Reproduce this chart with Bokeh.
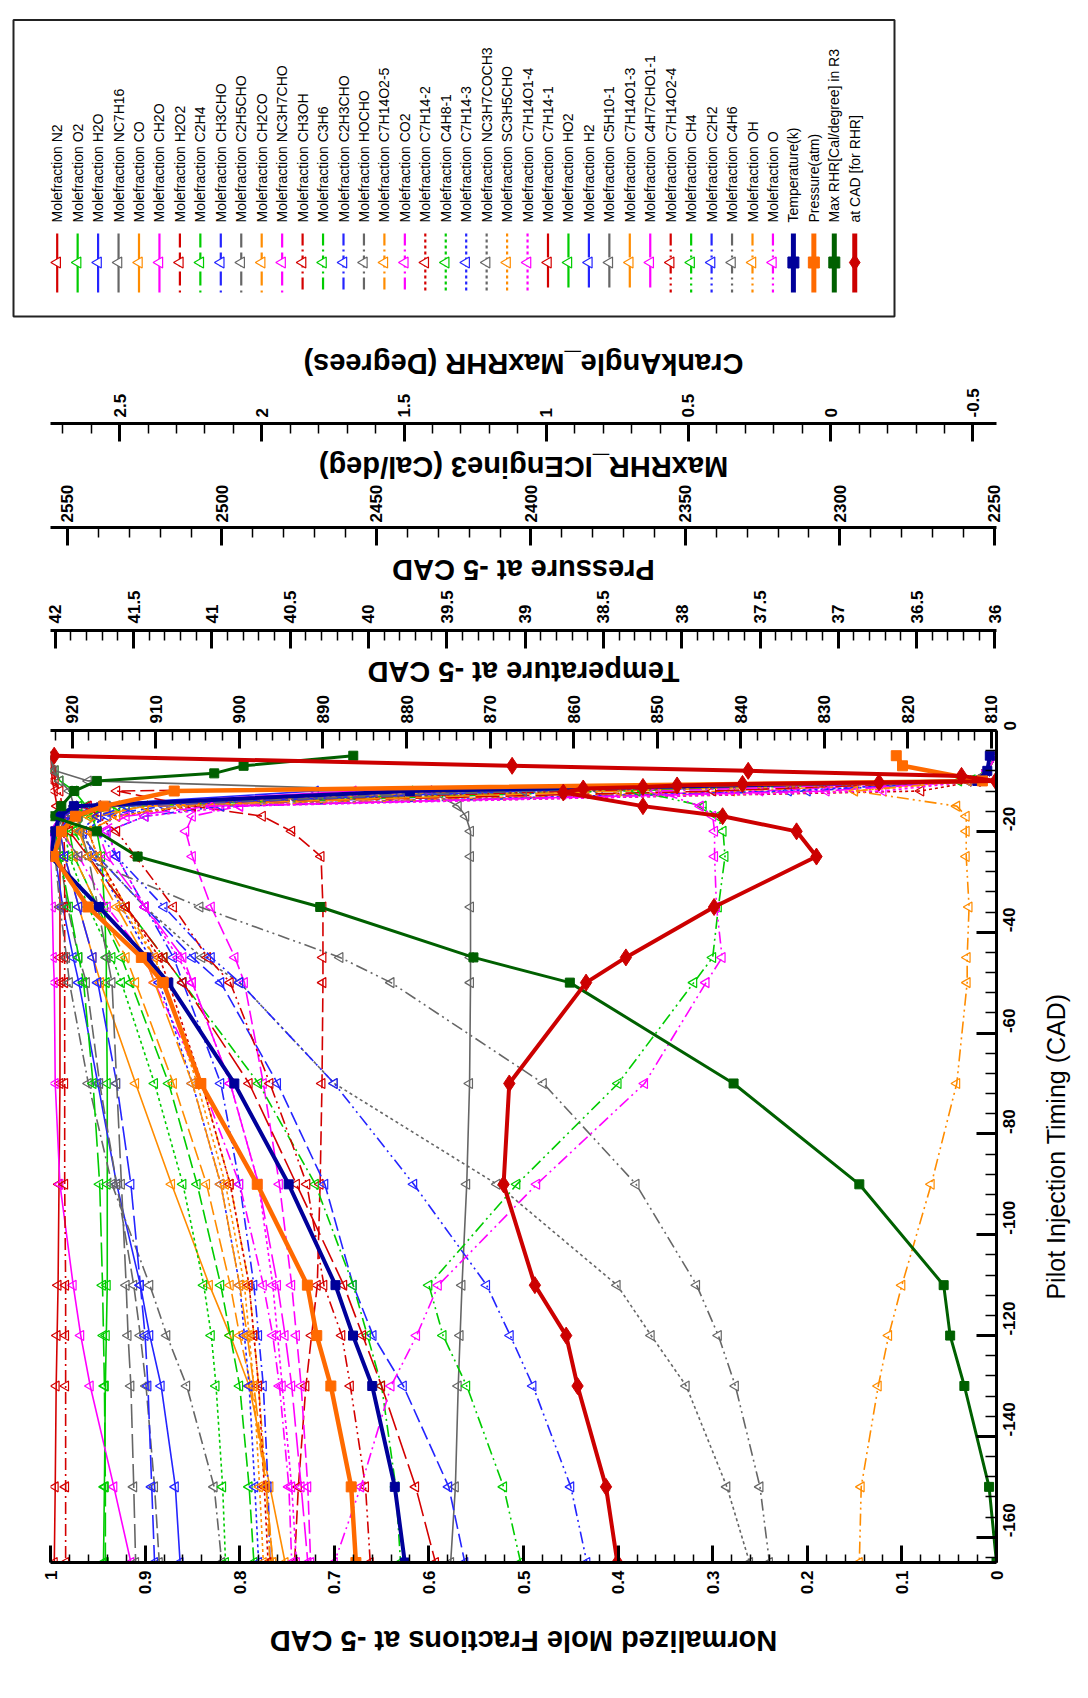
import math
from bokeh.plotting import figure
from bokeh.models import Range1d, LinearAxis, FixedTicker, CustomJSTickFormatter
from bokeh.layouts import column, row
from bokeh.embed import file_html
from bokeh.resources import INLINE
from bokeh.core.properties import value

# ---------------- data ----------------
T_SP = [-5, -8, -10, -12, -15, -17, -20, -25, -35, -45, -50, -70, -90, -110, -120, -130, -150, -165]

N2 = [1.0, 0.999, 0.998, 0.996, 0.993, 0.992, 0.991, 0.99, 0.99, 0.99, 0.99, 0.99, 0.991, 0.992, 0.993, 0.994, 0.995, 0.996]
O2 = [1.0, 0.995, 0.99, 0.975, 0.962, 0.956, 0.951, 0.946, 0.943, 0.941, 0.941, 0.94, 0.94, 0.94, 0.941, 0.942, 0.943, 0.944]
H2O = [0.0, 0.01, 0.03, 0.72, 0.975, 0.99, 1.0, 0.995, 0.987, 0.976, 0.97, 0.95, 0.93, 0.905, 0.895, 0.883, 0.868, 0.863]
NC7H16 = [1.0, 0.995, 0.96, 0.6, 0.569, 0.561, 0.556, 0.556, 0.556, 0.556, 0.556, 0.557, 0.56, 0.565, 0.567, 0.569, 0.572, 0.577]
CO = [0.0, 0.01, 0.02, 0.55, 0.93, 0.97, 0.99, 0.985, 0.97, 0.955, 0.947, 0.91, 0.872, 0.832, 0.81, 0.79, 0.768, 0.752]
CH2O = [0.0, 0.01, 0.03, 0.68, 0.96, 0.99, 1.0, 1.0, 0.998, 0.997, 0.996, 0.995, 0.99, 0.976, 0.968, 0.958, 0.933, 0.915]
H2O2 = [0.0, 0.01, 0.02, 0.93, 0.85, 0.776, 0.745, 0.714, 0.712, 0.712, 0.712, 0.713, 0.715, 0.718, 0.724, 0.73, 0.738, 0.742]
C2H4 = [0.0, 0.01, 0.02, 0.5, 0.9, 0.96, 0.98, 0.975, 0.95, 0.925, 0.915, 0.875, 0.845, 0.82, 0.81, 0.8, 0.79, 0.785]
CH3CHO = [0.0, 0.01, 0.02, 0.42, 0.88, 0.95, 0.97, 0.95, 0.9, 0.85, 0.82, 0.76, 0.71, 0.68, 0.659, 0.627, 0.579, 0.562]
C2H5CHO = [0.0, 0.01, 0.03, 0.6, 0.97, 0.985, 0.99, 0.99, 0.982, 0.97, 0.962, 0.948, 0.93, 0.912, 0.905, 0.899, 0.89, 0.885]
CH2CO = [0.0, 0.01, 0.02, 0.45, 0.9, 0.96, 0.985, 0.975, 0.95, 0.92, 0.91, 0.87, 0.835, 0.81, 0.8, 0.788, 0.772, 0.765]
NC3H7CHO = [0.0, 0.01, 0.02, 0.25, 0.8, 0.85, 0.857, 0.85, 0.83, 0.805, 0.795, 0.775, 0.758, 0.745, 0.74, 0.735, 0.728, 0.725]
CH3OH = [1.0, 0.998, 0.995, 0.99, 0.988, 0.987, 0.986, 0.985, 0.985, 0.985, 0.985, 0.985, 0.985, 0.984, 0.984, 0.984, 0.984, 0.984]
C3H6 = [0.0, 0.01, 0.02, 0.4, 0.93, 0.97, 0.975, 0.96, 0.92, 0.88, 0.86, 0.78, 0.72, 0.68, 0.665, 0.65, 0.635, 0.63]
C2H3CHO = [0.0, 0.01, 0.02, 0.2, 0.82, 0.9, 0.94, 0.93, 0.9, 0.87, 0.86, 0.82, 0.8, 0.785, 0.78, 0.775, 0.77, 0.768]
HOCHO = [0.0, 0.01, 0.03, 0.55, 0.95, 0.985, 0.995, 0.995, 0.99, 0.983, 0.98, 0.96, 0.935, 0.895, 0.877, 0.856, 0.827, 0.819]
C7H14O2_5 = [0.0, 0.01, 0.02, 0.28, 0.86, 0.93, 0.96, 0.95, 0.92, 0.89, 0.88, 0.84, 0.81, 0.79, 0.785, 0.78, 0.772, 0.768]
CO2 = [0.0, 0.01, 0.02, 0.6, 0.95, 0.98, 0.99, 0.97, 0.94, 0.9, 0.89, 0.84, 0.8, 0.775, 0.765, 0.758, 0.748, 0.745]
C7H14_2 = [0.0, 0.01, 0.02, 0.08, 0.85, 0.93, 0.96, 0.95, 0.92, 0.885, 0.875, 0.84, 0.81, 0.79, 0.785, 0.78, 0.774, 0.77]
C4H8_1 = [0.0, 0.01, 0.02, 0.45, 0.92, 0.97, 0.985, 0.98, 0.96, 0.935, 0.925, 0.89, 0.86, 0.838, 0.83, 0.825, 0.818, 0.815]
C7H14_3 = [0.0, 0.01, 0.02, 0.22, 0.86, 0.94, 0.965, 0.955, 0.925, 0.895, 0.885, 0.85, 0.82, 0.8, 0.795, 0.79, 0.784, 0.78]
NC3H7COCH3 = [0.0, 0.01, 0.02, 0.45, 0.94, 0.97, 0.97, 0.95, 0.9, 0.84, 0.8, 0.7, 0.528, 0.401, 0.365, 0.328, 0.285, 0.261]
SC3H5CHO = [0.0, 0.01, 0.02, 0.15, 0.86, 0.93, 0.96, 0.95, 0.925, 0.89, 0.88, 0.845, 0.815, 0.795, 0.79, 0.785, 0.779, 0.775]
C7H14O1_4 = [0.0, 0.01, 0.02, 0.12, 0.8, 0.9, 0.94, 0.93, 0.9, 0.865, 0.85, 0.81, 0.78, 0.765, 0.76, 0.755, 0.745, 0.74]
C7H14_1 = [0.0, 0.01, 0.02, 0.3, 0.95, 0.98, 0.98, 0.96, 0.92, 0.88, 0.86, 0.79, 0.74, 0.69, 0.67, 0.65, 0.614, 0.593]
HO2 = [0.0, 0.01, 0.04, 0.62, 0.97, 0.99, 0.995, 0.99, 0.98, 0.97, 0.965, 0.955, 0.948, 0.945, 0.944, 0.943, 0.942, 0.942]
H2 = [0.0, 0.01, 0.03, 0.5, 0.95, 0.98, 0.99, 0.985, 0.97, 0.955, 0.95, 0.93, 0.915, 0.905, 0.9, 0.897, 0.893, 0.89]
C5H10_1 = [1.0, 0.997, 0.99, 0.98, 0.975, 0.97, 0.968, 0.96, 0.95, 0.94, 0.935, 0.93, 0.925, 0.92, 0.918, 0.915, 0.912, 0.91]
C7H14O1_3 = [0.0, 0.01, 0.02, 0.4, 0.9, 0.95, 0.97, 0.96, 0.93, 0.9, 0.89, 0.85, 0.82, 0.8, 0.792, 0.785, 0.772, 0.765]
C4H7CHO1_1 = [0.0, 0.01, 0.02, 0.18, 0.83, 0.92, 0.95, 0.94, 0.9, 0.86, 0.85, 0.81, 0.78, 0.76, 0.752, 0.745, 0.735, 0.728]
C7H14O2_4 = [0.0, 0.01, 0.02, 0.45, 0.96, 0.95, 0.93, 0.91, 0.87, 0.834, 0.81, 0.768, 0.729, 0.711, 0.692, 0.683, 0.667, 0.662]
CH4 = [0.0, 0.01, 0.02, 0.38, 0.31, 0.295, 0.289, 0.287, 0.294, 0.3, 0.32, 0.4, 0.507, 0.6, 0.585, 0.56, 0.521, 0.503]
C2H2 = [0.0, 0.01, 0.02, 0.5, 0.92, 0.95, 0.95, 0.93, 0.88, 0.83, 0.8, 0.7, 0.616, 0.539, 0.514, 0.49, 0.45, 0.433]
C4H6 = [0.0, 0.01, 0.02, 0.5, 0.95, 0.975, 0.99, 0.97, 0.842, 0.694, 0.64, 0.479, 0.381, 0.317, 0.294, 0.276, 0.25, 0.24]
OH = [0.0, 0.01, 0.03, 0.15, 0.042, 0.032, 0.032, 0.032, 0.029, 0.031, 0.031, 0.042, 0.069, 0.1, 0.114, 0.125, 0.143, 0.145]
O = [0.0, 0.01, 0.02, 0.36, 0.313, 0.3, 0.298, 0.298, 0.296, 0.29, 0.307, 0.372, 0.486, 0.59, 0.613, 0.64, 0.672, 0.7]

SPECIES_NAMES = ["N2", "O2", "H2O", "NC7H16", "CO", "CH2O", "H2O2", "C2H4", "CH3CHO", "C2H5CHO",
                 "CH2CO", "NC3H7CHO", "CH3OH", "C3H6", "C2H3CHO", "HOCHO", "C7H14O2-5", "CO2",
                 "C7H14-2", "C4H8-1", "C7H14-3", "NC3H7COCH3", "SC3H5CHO", "C7H14O1-4", "C7H14-1",
                 "HO2", "H2", "C5H10-1", "C7H14O1-3", "C4H7CHO1-1", "C7H14O2-4", "CH4", "C2H2",
                 "C4H6", "OH", "O"]
SPECIES_VALUES = [N2, O2, H2O, NC7H16, CO, CH2O, H2O2, C2H4, CH3CHO, C2H5CHO, CH2CO, NC3H7CHO,
                  CH3OH, C3H6, C2H3CHO, HOCHO, C7H14O2_5, CO2, C7H14_2, C4H8_1, C7H14_3, NC3H7COCH3,
                  SC3H5CHO, C7H14O1_4, C7H14_1, HO2, H2, C5H10_1, C7H14O1_3, C4H7CHO1_1, C7H14O2_4,
                  CH4, C2H2, C4H6, OH, O]

T_TEMP = [-5, -8, -10, -12, -15, -17, -20, -25, -35, -45, -50, -70, -90, -110, -120, -130, -150, -165]
TEMP_K = [810.2, 810.5, 811.7, 879.6, 919.8, 921.5, 922.1, 922.6, 916.8, 911.1, 908.5, 900.6, 894.1, 888.5, 886.4, 884.1, 881.4, 880.2]

T_PRES = [-5, -7, -10, -12, -15, -17, -20, -25, -35, -45, -50, -70, -90, -110, -120, -130, -150, -165]
PRES_ATM = [36.63, 36.59, 36.08, 41.24, 41.69, 41.87, 41.96, 42.01, 41.79, 41.45, 41.31, 41.07, 40.71, 40.39, 40.33, 40.24, 40.11, 40.08]

T_RHR = [-5, -7, -8.5, -10, -12, -15, -17, -20, -25, -35, -45, -50, -70, -90, -110, -120, -130, -150, -165]
MAX_RHR = [2457.5, 2493.0, 2502.5, 2540.5, 2547.8, 2552.0, 2555.5, 2540.5, 2527.3, 2468.2, 2418.6, 2387.4, 2334.4, 2293.7, 2266.4, 2264.3, 2259.7, 2251.7, 2249.3]

T_CAD = [-5, -7, -8, -9, -10, -10.3, -10.6, -10.9, -11.2, -11.5, -12.3, -15, -17, -20, -25, -35, -45, -50, -70, -90, -110, -120, -130, -150, -165]
CAD_MAXRHR = [2.73, 1.12, 0.29, -0.46, -0.58, -0.17, 0.31, 0.54, 0.66, 0.87, 0.94, 0.66, 0.38, 0.12, 0.05, 0.41, 0.72, 0.86, 1.13, 1.15, 1.04, 0.93, 0.89, 0.79, 0.75]

SPECIAL_LABELS = ["Temperature(k)", "Pressure(atm)", "Max RHR[Cal/degree] in R3", "at CAD [for RHR]"]

TICKS_FRAC = [0, 0.1, 0.2, 0.3, 0.4, 0.5, 0.6, 0.7, 0.8, 0.9, 1]
TICKS_TIME = [0, -20, -40, -60, -80, -100, -120, -140, -160]
TICKS_TEMP = [810, 820, 830, 840, 850, 860, 870, 880, 890, 900, 910, 920]
TICKS_PRES = [36, 36.5, 37, 37.5, 38, 38.5, 39, 39.5, 40, 40.5, 41, 41.5, 42]
TICKS_RHR = [2250, 2300, 2350, 2400, 2450, 2500, 2550]
TICKS_CAD = [-0.5, 0, 0.5, 1, 1.5, 2, 2.5]

RANGE_FRAC = (1, 0)
RANGE_TIME = (-165, 0)
RANGE_TEMP = (922.6, 809.4)
RANGE_PRES = (42.03, 35.99)
RANGE_RHR = (2555.5, 2249.3)
RANGE_CAD = (2.743, -0.583)

TITLE_BOTTOM = "Normalized Mole Fractions at -5 CAD"
TITLE_RIGHT = "Pilot Injection Timing (CAD)"
TITLE_TEMP = "Temperature at -5 CAD"
TITLE_PRES = "Pressure at -5 CAD"
TITLE_RHR = "MaxRHR_ICEngine3 (Cal/deg)"
TITLE_CAD = "CrankAngle_MaxRHR (Degrees)"

# ---------------- styles / layout ----------------
FONT = "Liberation Sans"
COLORS6 = ["#D40000", "#00CC00", "#2424FF", "#666666", "#FF8C00", "#FF00FF"]
DASHES6 = ["solid", "14 5", "12 4 2 4", "3 3", "24 6", "12 4 2 4 2 4"]
SPECIAL_COLORS = ["#00009A", "#FF6A00", "#006000", "#CC0000"]
TITLE_SIZE = "29px"

W = 1088
FRAME_L, FRAME_R = 50, 996
# page rows (pixel y of the top of each strip)
Y_LEG, Y_CAD, Y_RHR, Y_PRES, Y_MAIN, Y_BOT, Y_END = 0, 383, 481, 585, 690, 1607, 1698
LINE_CAD, LINE_RHR, LINE_PRES, LINE_TEMP, FRAME_BOTTOM = 423, 525, 630, 730, 1562
MAIN_W = 1035

fmt = CustomJSTickFormatter(code="return tick.toString();")


def minor_list(a, b, step, nd):
    n = int(round((b - a) / step))
    return [round(a + k * step, nd) for k in range(n + 1)]


def style_axis(ax, tick_in, minor_in, standoff):
    ax.axis_line_width = 3
    ax.axis_line_color = "black"
    ax.major_tick_in = tick_in
    ax.major_tick_out = 0
    ax.minor_tick_in = minor_in
    ax.minor_tick_out = 0
    ax.major_tick_line_width = 3
    ax.major_tick_line_color = "black"
    ax.minor_tick_line_width = 1.5
    ax.minor_tick_line_color = "black"
    ax.major_label_text_font = FONT
    ax.major_label_text_font_style = "bold"
    ax.major_label_text_font_size = "17px"
    ax.major_label_text_color = "black"
    ax.major_label_orientation = math.pi / 2
    ax.major_label_standoff = standoff
    ax.formatter = fmt


def clean(fig):
    fig.grid.visible = False
    fig.outline_line_color = None
    try:
        fig.frame_align = False
    except Exception:
        pass


def title_text(fig, x, y, txt, angle, size, style="bold"):
    fig.text(x=[x], y=[y], text=[txt], angle=angle, text_align="center",
             text_baseline="middle", text_font=value(FONT), text_font_size=size,
             text_font_style=style, text_color="black")


def strip(rng, ticks, minors, top, line, bottom, standoff, title, title_y):
    """A thin figure whose above-axis is one of the stacked top axes; its frame
    holds the title of the next axis below."""
    f = figure(width=W, height=bottom - top, x_range=Range1d(*rng),
               y_range=Range1d(bottom, line), x_axis_location="above",
               y_axis_location=None, toolbar_location=None, output_backend="svg",
               min_border_left=FRAME_L, min_border_right=W - FRAME_R,
               min_border_top=line - top, min_border_bottom=0)
    clean(f)
    ax = f.xaxis[0]
    style_axis(ax, 18, 10, standoff)
    ax.ticker = FixedTicker(ticks=ticks, minor_ticks=minors)
    title_text(f, (rng[0] + rng[1]) / 2.0, title_y, title, math.pi, TITLE_SIZE)
    return f


# ---------------- legend strip ----------------
leg = figure(width=W, height=Y_CAD - Y_LEG, x_range=Range1d(0, W), y_range=Range1d(Y_CAD, Y_LEG),
             toolbar_location=None, output_backend="svg", min_border=0,
             min_border_left=0, min_border_right=0, min_border_top=0, min_border_bottom=0,
             x_axis_location=None, y_axis_location=None)
clean(leg)
leg.quad(left=[13], right=[894], top=[19.5], bottom=[316], fill_color="white",
         line_color="#222222", line_width=2)

X0, DX = 56.7, 20.45
TXT_Y, L_TOP, L_BOT, M_Y = 222, 233, 292, 262
all_labels = ["Molefraction " + n for n in SPECIES_NAMES] + SPECIAL_LABELS
for i, lab in enumerate(all_labels):
    x = X0 + i * DX
    leg.text(x=[x], y=[TXT_Y], text=[lab], angle=math.pi / 2, text_align="left",
             text_baseline="middle", text_font=value(FONT), text_font_size="14px",
             text_color="black")
    if i < len(SPECIES_NAMES):
        c = COLORS6[i % 6]
        d = DASHES6[i // 6]
        leg.segment(x0=[x], y0=[L_TOP], x1=[x], y1=[L_BOT], line_color=c, line_width=2.2, line_dash=d)
        leg.scatter([x], [M_Y], marker="triangle", angle=math.pi / 2, size=11,
                    fill_color="white", line_color=c, line_width=1.2)
    else:
        j = i - len(SPECIES_NAMES)
        c = SPECIAL_COLORS[j]
        leg.segment(x0=[x], y0=[L_TOP], x1=[x], y1=[L_BOT], line_color=c, line_width=5)
        mk = "diamond" if j == 3 else "square"
        leg.scatter([x], [M_Y], marker=mk, size=16 if j == 3 else 11, color=c)
title_text(leg, (FRAME_L + FRAME_R) / 2.0, 363, TITLE_CAD, math.pi, TITLE_SIZE)

# ---------------- stacked top axes ----------------
f_cad = strip(RANGE_CAD, TICKS_CAD, minor_list(-0.5, 2.7, 0.1, 1), Y_CAD, LINE_CAD, Y_RHR, 6,
              TITLE_RHR, 466)
f_rhr = strip(RANGE_RHR, TICKS_RHR, minor_list(2250, 2550, 10, 0), Y_RHR, LINE_RHR, Y_PRES, 5,
              TITLE_PRES, 569)
f_pres = strip(RANGE_PRES, TICKS_PRES, minor_list(36, 42, 0.1, 1), Y_PRES, LINE_PRES, Y_MAIN, 7,
               TITLE_TEMP, 671)

# ---------------- main figure ----------------
p = figure(width=MAIN_W, height=Y_BOT - Y_MAIN, x_range=Range1d(*RANGE_FRAC),
           y_range=Range1d(*RANGE_TIME), x_axis_location="below", y_axis_location="right",
           toolbar_location=None, output_backend="svg", min_border_left=FRAME_L,
           min_border_right=MAIN_W - FRAME_R, min_border_top=LINE_TEMP - Y_MAIN,
           min_border_bottom=Y_BOT - FRAME_BOTTOM)
clean(p)
p.extra_x_ranges = {"temp": Range1d(*RANGE_TEMP), "pres": Range1d(*RANGE_PRES),
                    "rhr": Range1d(*RANGE_RHR), "cad": Range1d(*RANGE_CAD)}

xb = p.xaxis[0]
style_axis(xb, 17, 8, 8)
xb.ticker = FixedTicker(ticks=TICKS_FRAC, minor_ticks=minor_list(0, 1, 0.02, 2))

yr = p.yaxis[0]
style_axis(yr, 20, 11, 13)
yr.ticker = FixedTicker(ticks=TICKS_TIME, minor_ticks=minor_list(-164, 0, 4, 0))

ax_t = LinearAxis(x_range_name="temp")
style_axis(ax_t, 18, 10, 7)
ax_t.ticker = FixedTicker(ticks=TICKS_TEMP, minor_ticks=minor_list(810, 922, 2, 0))
p.add_layout(ax_t, "above")

# species curves
for i, (name, vals) in enumerate(zip(SPECIES_NAMES, SPECIES_VALUES)):
    c = COLORS6[i % 6]
    d = DASHES6[i // 6]
    p.line(vals, T_SP, line_color=c, line_width=1.6, line_dash=d)
    p.scatter(vals, T_SP, marker="triangle", angle=math.pi / 2, size=10,
              fill_color=None, line_color=c, line_width=1.2)

# special curves
p.line(TEMP_K, T_TEMP, x_range_name="temp", line_color=SPECIAL_COLORS[0], line_width=4)
p.scatter(TEMP_K, T_TEMP, x_range_name="temp", marker="square", size=9, color=SPECIAL_COLORS[0])
p.line(PRES_ATM, T_PRES, x_range_name="pres", line_color=SPECIAL_COLORS[1], line_width=4.5)
p.scatter(PRES_ATM, T_PRES, x_range_name="pres", marker="square", size=10, color=SPECIAL_COLORS[1])
p.line(MAX_RHR, T_RHR, x_range_name="rhr", line_color=SPECIAL_COLORS[2], line_width=3)
p.scatter(MAX_RHR, T_RHR, x_range_name="rhr", marker="square", size=9, color=SPECIAL_COLORS[2])
p.line(CAD_MAXRHR, T_CAD, x_range_name="cad", line_color=SPECIAL_COLORS[3], line_width=4)
p.scatter(CAD_MAXRHR, T_CAD, x_range_name="cad", marker="diamond", size=17, color=SPECIAL_COLORS[3])

# ---------------- right title strip ----------------
f_right = figure(width=W - MAIN_W, height=Y_BOT - Y_MAIN, x_range=Range1d(MAIN_W, W),
                 y_range=Range1d(Y_BOT, Y_MAIN), toolbar_location=None, output_backend="svg",
                 min_border=0, min_border_left=0, min_border_right=0, min_border_top=0,
                 min_border_bottom=0, x_axis_location=None, y_axis_location=None)
clean(f_right)
title_text(f_right, 1055, (LINE_TEMP + FRAME_BOTTOM) / 2.0, TITLE_RIGHT, math.pi / 2, "25px", "normal")

# ---------------- bottom title strip ----------------
f_bot = figure(width=W, height=Y_END - Y_BOT, x_range=Range1d(0, W), y_range=Range1d(Y_END, Y_BOT),
               toolbar_location=None, output_backend="svg", min_border=0, min_border_left=0,
               min_border_right=0, min_border_top=0, min_border_bottom=0,
               x_axis_location=None, y_axis_location=None)
clean(f_bot)
title_text(f_bot, (FRAME_L + FRAME_R) / 2.0, 1640, TITLE_BOTTOM, math.pi, TITLE_SIZE)

layout = column(leg, f_cad, f_rhr, f_pres, row(p, f_right, spacing=0), f_bot, spacing=0)
open("out.html", "w").write(file_html(layout, INLINE))
